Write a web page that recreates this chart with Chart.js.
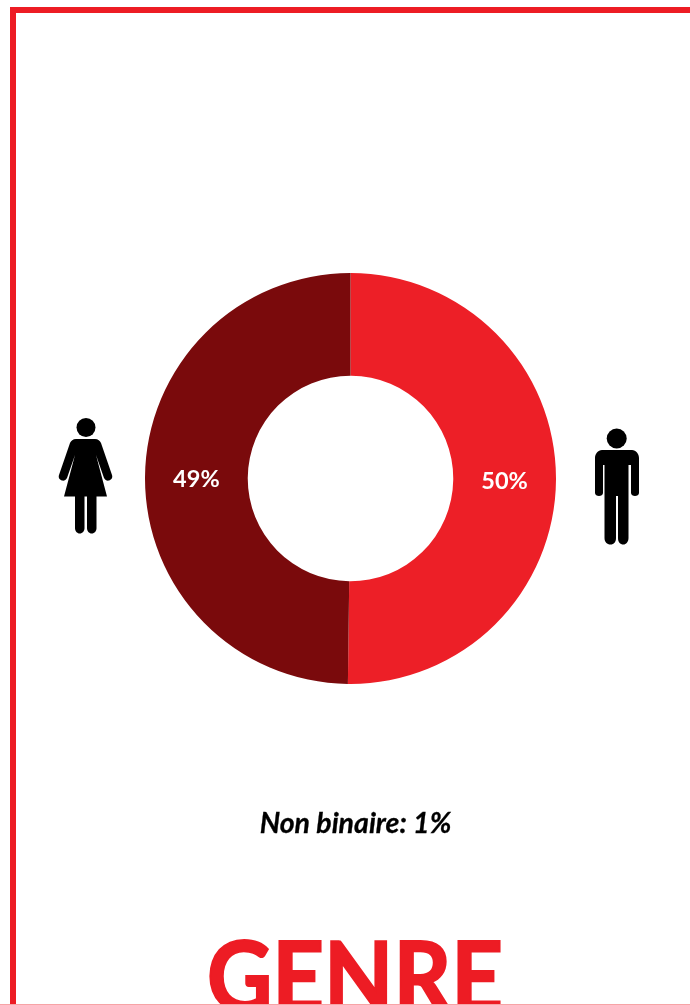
<!DOCTYPE html>
<html lang="fr">
<head>
<meta charset="utf-8">
<title>Genre</title>
<script src="https://cdn.jsdelivr.net/npm/chart.js@4/dist/chart.umd.min.js"></script>
<style>
html,body{margin:0;padding:0;background:#fff;width:690px;height:1005px;overflow:hidden}
#page{position:relative;width:690px;height:1005px;overflow:hidden;background:#fff}
#frame{position:absolute;left:10px;top:7px;width:800px;height:1200px;border:6px solid #ed1c24;box-sizing:border-box}
#wrap{position:absolute;left:145px;top:273px;width:411px;height:411px}
#note{position:absolute;left:0;width:711px;top:805px;text-align:center;font:italic 700 28.500px Lato,sans-serif;line-height:34px;color:#000;-webkit-text-stroke:0.300px #000}
#title{position:absolute;left:0;width:710px;top:909px;text-align:center;font:700 90px Lato,sans-serif;line-height:120px;color:#ed1c24;-webkit-text-stroke:2px #ed1c24;transform:scaleY(1.08);transform-origin:0 0}
#cut{position:absolute;left:0;top:1004px;width:690px;height:1px;background:#f7a3a6}
svg{position:absolute;left:0;top:0}
</style>
</head>
<body>
<div id="page">
<div id="frame"></div>
<div id="wrap"><canvas id="c" width="411" height="411"></canvas></div>
<svg width="690" height="1005" viewBox="0 0 690 1005" aria-hidden="true">
  <g fill="#000" stroke="none">
    <circle cx="86" cy="427.5" r="9.5"/>
    <path d="M76 439H95C98 439 100 441 101 443L112 475C113 478 111 480 109 480.500C107 481 105 480 104 478L96 455L107 496.500H64L75 455L67 478C66 480 64 481 62 480.500C60 480 58 478 59 475L70 443C71 441 73 439 76 439Z"/>
    <path d="M75 496H84.500V528C84.500 531 82.500 533.500 79.700 533.500C77 533.500 75 531 75 528Z"/>
    <path d="M87 496H96.500V528C96.500 531 94.500 533.500 91.700 533.500C89 533.500 87 531 87 528Z"/>
    <circle cx="616.700" cy="438.500" r="10"/>
    <path d="M602 450H632C636 450 639 454 639 458V493C639 495 637 496 635 496C633 496 631 495 631 493V465H628.500V538C628.500 542 626 544.500 623.500 544.500C620 544.500 618 542 618 538V496H616V538C616 542 614 544.500 610.500 544.500C607 544.500 604.500 542 604.500 538V465H603V493C603 495 601 496 599 496C597 496 595 495 595 493V458C595 454 598 450 602 450Z"/>
  </g>
</svg>
<div id="note">Non binaire: 1%</div>
<div id="title">GENRE</div>
<div id="cut"></div>
</div>
<script>
const categories = ["Hommes", "Femmes"];
const values = [49.7, 49.3];
const sliceColors = ["#ed1f27", "#7a0a0c"];

const percentLabels = {
  id: "percentLabels",
  afterDatasetsDraw(chart) {
    const ctx = chart.ctx;
    const arcs = chart.getDatasetMeta(0).data;
    ctx.save();
    ctx.fillStyle = "#ffffff";
    ctx.font = "700 23.5px Lato, sans-serif";
    ctx.textAlign = "center";
    ctx.textBaseline = "middle";
    arcs.forEach((arc, i) => {
      const p = arc.getCenterPoint();
      ctx.fillText(Math.round(values[i]) + "%", p.x, p.y + 1.5);
    });
    ctx.restore();
  }
};

new Chart(document.getElementById("c"), {
  type: "doughnut",
  data: {
    labels: categories,
    datasets: [{ data: values, backgroundColor: sliceColors, borderWidth: 0 }]
  },
  options: {
    responsive: false,
    animation: false,
    cutout: "50%",
    layout: { padding: 0 },
    plugins: { legend: { display: false }, tooltip: { enabled: false }, title: { display: false } }
  },
  plugins: [percentLabels]
});
</script>
</body>
</html>
